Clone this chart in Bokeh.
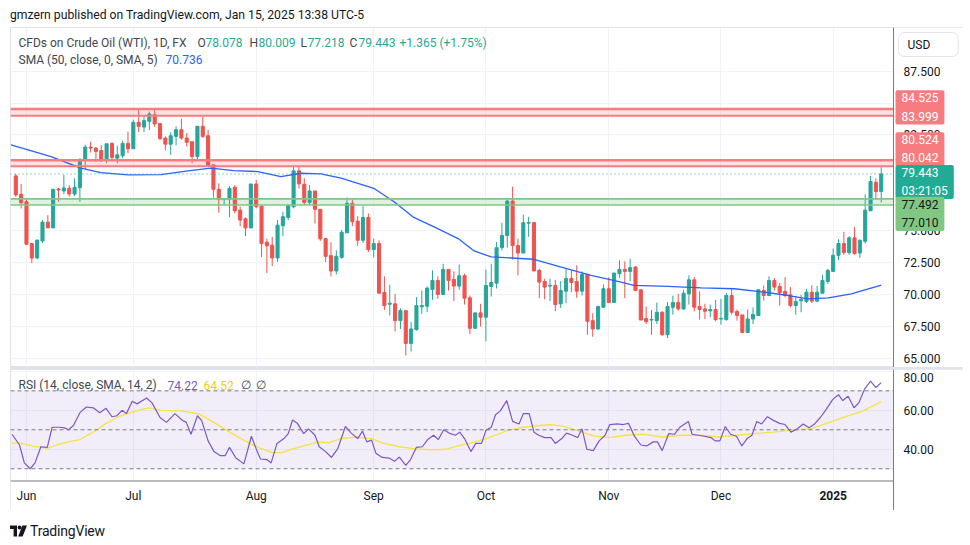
from bokeh.plotting import figure
from bokeh.models import (Range1d, FixedTicker, Span, BoxAnnotation, Label, Div,
                          ColumnDataSource)
from bokeh.layouts import column
from bokeh.embed import file_html
from bokeh.resources import INLINE

# ---------------- data ----------------
opens = [79.29, 77.85, 77.27, 73.99, 72.86, 74.20, 75.67, 75.22, 78.27, 78.11,
         78.32, 77.87, 78.37, 80.55, 81.55, 81.47, 81.29, 80.55, 81.84, 80.68,
         80.87, 81.84, 81.42, 83.49, 83.12, 83.57, 84.09, 83.39, 82.26, 81.78,
         82.39, 82.91, 82.26, 81.97, 80.81, 83.18, 82.44, 80.16, 78.24, 77.45,
         77.45, 78.40, 76.61, 75.93, 75.22, 78.66, 76.93, 74.09, 73.86, 72.86,
         75.38, 76.04, 76.88, 79.69, 78.64, 77.22, 78.11, 76.67, 74.38, 73.04,
         71.84, 72.91, 74.83, 77.14, 75.75, 74.25, 76.04, 73.52, 73.99, 70.16,
         69.24, 69.27, 67.95, 68.74, 66.17, 67.25, 69.03, 69.08, 70.39, 71.10,
         70.00, 71.97, 71.18, 70.66, 71.47, 69.74, 67.35, 68.56, 68.22, 70.63,
         70.89, 73.67, 74.62, 77.32, 73.83, 73.25, 75.59, 75.64, 71.89, 71.02,
         70.66, 70.71, 69.27, 70.26, 71.26, 71.02, 70.26, 71.57, 67.95, 67.30,
         69.00, 70.45, 69.37, 71.63, 71.97, 71.81, 72.15, 70.37, 68.11, 68.00,
         67.95, 68.61, 66.85, 69.00, 69.37, 68.87, 70.05, 71.15, 69.06, 68.87,
         68.72, 68.82, 68.08, 68.03, 69.92, 68.66, 68.40, 67.03, 68.08, 68.35,
         70.31, 69.92, 71.10, 70.63, 70.24, 69.97, 69.13, 69.50, 69.45, 70.18,
         69.48, 70.10, 71.02, 71.81, 73.07, 73.99, 73.28, 74.44, 73.25, 74.17,
         76.56, 78.79, 78.078]
highs = [79.45, 78.66, 77.45, 74.04, 74.33, 75.83, 76.22, 78.24, 78.35, 79.37,
         78.58, 79.11, 80.68, 81.73, 81.97, 81.55, 81.71, 81.81, 81.92, 81.65,
         82.05, 82.76, 83.70, 84.44, 84.04, 84.33, 84.54, 83.39, 82.39, 82.70,
         83.18, 83.78, 82.65, 81.97, 83.18, 83.91, 82.91, 80.16, 78.71, 77.50,
         78.50, 78.58, 76.88, 76.04, 78.66, 78.98, 76.93, 74.38, 74.51, 75.83,
         76.48, 77.09, 80.10, 80.10, 79.11, 78.58, 78.11, 76.67, 74.38, 74.09,
         73.46, 75.04, 77.61, 77.45, 76.14, 76.93, 76.35, 74.38, 74.25, 71.42,
         70.76, 70.05, 68.92, 68.74, 67.85, 69.79, 70.31, 70.63, 71.89, 71.42,
         72.41, 71.97, 71.81, 72.34, 71.63, 69.92, 68.56, 69.27, 71.94, 72.41,
         74.12, 75.62, 77.40, 78.45, 74.38, 76.27, 76.09, 75.64, 72.02, 71.23,
         71.23, 71.15, 71.05, 71.99, 71.89, 72.28, 71.81, 71.63, 68.53, 69.13,
         70.79, 71.36, 71.68, 72.68, 72.60, 72.81, 72.23, 70.37, 69.06, 68.79,
         69.37, 68.69, 69.40, 69.90, 70.05, 70.37, 71.50, 71.36, 70.24, 69.27,
         69.21, 69.58, 69.66, 70.13, 70.52, 68.82, 68.40, 68.82, 68.98, 70.37,
         70.71, 71.42, 71.29, 70.92, 71.36, 70.58, 69.87, 69.97, 70.45, 70.71,
         70.66, 71.55, 72.02, 73.60, 74.33, 74.91, 74.57, 75.30, 74.30, 77.85,
         79.29, 79.11, 80.009]
lows = [77.66, 76.75, 73.90, 72.47, 72.76, 74.04, 75.22, 75.22, 77.27, 77.85,
        77.66, 77.72, 77.27, 79.82, 81.13, 80.39, 80.37, 80.29, 80.55, 80.29,
        80.68, 81.08, 81.42, 82.73, 82.73, 82.88, 83.12, 82.13, 81.29, 80.94,
        81.68, 82.13, 81.60, 80.29, 80.55, 82.26, 80.13, 77.59, 76.40, 76.98,
        76.06, 76.35, 75.35, 74.57, 75.22, 76.75, 72.94, 71.68, 72.23, 72.55,
        74.57, 75.83, 76.75, 78.30, 77.01, 77.01, 75.56, 74.20, 72.55, 71.42,
        71.57, 72.81, 74.83, 75.35, 73.81, 74.04, 73.33, 72.89, 70.10, 68.79,
        68.35, 67.11, 67.30, 65.22, 65.54, 67.17, 68.48, 68.61, 69.58, 69.66,
        70.00, 70.31, 69.48, 70.37, 69.21, 66.90, 67.35, 67.48, 66.33, 69.84,
        70.47, 73.46, 73.67, 72.73, 71.50, 73.25, 74.51, 71.84, 69.71, 69.61,
        69.48, 68.69, 68.95, 69.32, 70.18, 69.74, 69.92, 66.85, 66.69, 67.22,
        69.00, 69.37, 69.37, 71.31, 69.71, 71.05, 70.26, 68.00, 67.69, 66.85,
        67.69, 66.77, 66.59, 68.43, 68.74, 68.79, 69.21, 68.66, 68.03, 68.08,
        68.22, 67.90, 67.64, 67.95, 68.43, 67.95, 66.96, 66.96, 67.69, 68.35,
        69.53, 69.87, 70.31, 69.13, 69.79, 69.00, 68.43, 68.61, 69.34, 69.34,
        69.40, 70.10, 70.84, 71.76, 72.68, 73.12, 73.12, 73.12, 72.86, 73.99,
        76.56, 77.45, 77.218]
closes = [77.80, 77.19, 73.94, 72.86, 74.25, 75.67, 75.22, 78.24, 78.19, 78.35,
          77.87, 78.40, 80.55, 81.55, 81.47, 81.21, 80.55, 81.81, 80.73, 80.94,
          81.84, 81.42, 83.49, 83.18, 83.62, 84.15, 83.36, 82.20, 81.78, 82.44,
          82.91, 82.26, 81.92, 80.81, 83.18, 82.39, 80.13, 78.24, 77.45, 77.50,
          78.32, 76.56, 75.83, 75.22, 78.66, 76.88, 73.99, 73.81, 72.86, 75.43,
          76.09, 76.98, 79.69, 78.67, 77.22, 78.11, 76.67, 74.36, 72.99, 71.84,
          72.99, 74.88, 77.14, 75.70, 74.25, 76.04, 73.52, 73.99, 70.10, 69.13,
          69.32, 67.95, 68.74, 66.17, 67.30, 69.13, 69.13, 70.50, 71.10, 70.00,
          71.97, 71.10, 70.66, 71.47, 69.71, 67.35, 68.56, 68.22, 70.71, 70.94,
          73.67, 74.62, 77.32, 73.83, 73.25, 75.62, 75.64, 71.84, 70.97, 70.58,
          70.71, 69.21, 70.31, 71.26, 70.94, 70.26, 71.57, 67.90, 67.30, 69.06,
          70.45, 69.37, 71.68, 71.97, 71.81, 72.10, 70.31, 68.00, 67.87, 68.05,
          68.61, 66.85, 69.06, 69.37, 68.87, 70.10, 71.15, 69.00, 68.82, 68.69,
          68.82, 68.03, 68.13, 69.92, 68.61, 68.35, 67.03, 68.08, 68.43, 70.37,
          69.92, 71.10, 70.58, 70.13, 69.92, 69.13, 69.45, 69.61, 70.18, 69.48,
          70.18, 71.10, 71.89, 73.07, 73.99, 73.28, 74.44, 73.20, 74.25, 76.61,
          78.85, 78.06, 79.443]

sma_bar = [-0.9, 6.6, 12.2, 15.9, 21.0, 27.2, 32.2, 36.5, 40.8, 45.3, 49.6, 53.4,
           57.1, 60.9, 67.0, 70.8, 74.5, 78.3, 82.8, 85.8, 89.0, 92.7, 97.0, 102.1,
           107.7, 113.3, 115.7, 122.1, 128.3, 134.5, 140.1, 144.6, 148.3, 152.1,
           156.4, 159.6, 162.0]
sma_val = [81.73, 80.81, 79.90, 79.55, 79.37, 79.39, 79.69, 79.90, 79.71, 79.63,
           79.24, 79.50, 79.45, 79.11, 78.32, 77.27, 76.04, 75.30, 74.38, 73.41,
           72.94, 72.86, 72.76, 72.15, 71.50, 70.97, 70.71, 70.63, 70.52, 70.45,
           70.18, 69.92, 69.66, 69.74, 70.05, 70.45, 70.736]

rsi_bar = [-0.7, 0.7, 1.6, 2.7, 3.6, 4.7, 5.9, 6.8, 8.2, 9.1,
           9.9, 10.8, 12.0, 13.2, 14.5, 15.7, 16.9, 18.0, 18.9, 19.9,
           20.7, 21.8, 22.7, 24.5, 25.5, 27.0, 28.2, 29.8, 31.1, 31.9,
           32.8, 34.0, 34.8, 36.0, 37.1, 38.3, 39.2, 40.0, 41.2, 42.7,
           44.1, 45.2, 45.8, 47.0, 47.8, 48.9, 50.2, 51.0, 51.8, 52.7,
           53.9, 54.8, 56.0, 56.8, 58.0, 59.1, 60.3, 61.7, 62.8, 64.0,
           64.9, 65.7, 66.6, 67.4, 68.6, 69.9, 70.9, 71.8, 73.0, 73.9,
           75.0, 76.1, 77.1, 78.2, 79.1, 80.1, 81.1, 82.3, 83.1, 84.0,
           85.2, 86.1, 87.2, 88.0, 89.0, 89.8, 90.7, 91.9, 93.0, 94.2,
           95.0, 96.1, 97.0, 97.9, 99.0, 100.2, 101.0, 102.2, 103.1, 104.2,
           105.2, 106.0, 106.9, 108.1, 109.2, 110.3, 111.2, 112.6, 113.7, 114.7,
           115.8, 117.0, 118.1, 119.3, 120.1, 121.0, 122.2, 123.3, 124.3, 125.9,
           126.6, 127.8, 128.9, 130.1, 130.9, 131.8, 132.8, 133.8, 134.9, 135.9,
           136.9, 137.8, 138.7, 139.6, 140.7, 141.9, 143.0, 144.0, 145.1, 146.3,
           147.4, 148.5, 149.4, 150.6, 151.7, 152.9, 154.0, 154.8, 155.8, 156.9,
           157.8, 158.9, 160.0, 161.0, 162.0]
rsi_val = [47.7, 42.2, 33.0, 30.0, 33.0, 41.3, 41.0, 51.3, 51.3, 51.0,
           50.0, 52.2, 58.8, 61.7, 61.3, 58.8, 61.0, 56.7, 57.2, 60.0,
           58.3, 64.7, 63.3, 66.3, 63.8, 56.3, 53.8, 58.3, 55.0, 53.8,
           47.7, 57.2, 54.7, 44.3, 38.8, 36.7, 36.7, 41.0, 35.5, 32.5,
           46.7, 38.8, 35.0, 34.7, 33.0, 43.0, 45.5, 48.0, 55.0, 53.3,
           48.0, 50.5, 47.2, 41.3, 38.8, 35.8, 40.5, 51.7, 48.3, 45.5,
           49.3, 43.8, 44.7, 38.0, 35.8, 35.5, 33.8, 36.0, 31.7, 34.7,
           41.0, 41.3, 45.0, 47.2, 45.0, 50.0, 48.3, 47.2, 48.8, 45.5,
           38.8, 43.0, 43.0, 49.7, 51.3, 57.7, 59.7, 65.0, 54.3, 53.0,
           58.3, 58.3, 48.8, 47.2, 46.0, 46.0, 43.0, 45.5, 48.3, 47.2,
           46.0, 50.5, 40.0, 39.3, 44.3, 47.2, 52.7, 53.0, 52.7, 53.3,
           46.7, 42.2, 41.7, 43.8, 43.8, 39.3, 48.0, 47.7, 51.3, 54.3,
           47.7, 47.2, 46.7, 46.0, 44.3, 44.3, 51.7, 47.7, 46.7, 41.7,
           45.5, 47.2, 54.3, 53.0, 56.7, 54.7, 53.3, 52.7, 48.8, 50.5,
           53.0, 51.0, 52.7, 56.3, 60.5, 65.5, 68.0, 65.0, 67.2, 61.3,
           63.8, 71.0, 75.0, 71.7, 74.22]

rsima_bar = [-0.7, 0.7, 3.0, 5.9, 7.6, 9.9, 12.0, 14.5, 16.9, 19.2,
             21.5, 23.6, 25.0, 27.3, 30.8, 34.2, 37.1, 40.0, 42.9, 45.8,
             48.1, 49.8, 52.2, 55.1, 56.8, 58.5, 60.8, 63.7, 66.6, 68.9,
             71.8, 74.7, 78.2, 80.5, 82.8, 85.2, 88.0, 89.8, 92.1, 95.0,
             97.9, 100.2, 102.5, 105.4, 108.3, 111.2, 114.1, 117.6, 121.0, 124.5,
             128.0, 131.4, 134.9, 138.4, 141.9, 145.3, 148.8, 152.3, 155.8, 158.6,
             162.0]
rsima_val = [43.0, 43.3, 41.7, 40.5, 42.2, 43.8, 45.0, 48.8, 53.3, 56.7,
             58.8, 60.5, 61.3, 60.0, 59.7, 58.3, 53.8, 48.8, 44.3, 40.5,
             38.3, 38.3, 40.5, 42.7, 43.8, 43.3, 45.5, 46.3, 45.5, 43.0,
             41.3, 40.2, 39.7, 40.0, 41.7, 43.3, 45.5, 47.2, 49.7, 51.3,
             52.2, 52.7, 51.7, 49.3, 46.7, 46.0, 47.2, 47.7, 46.3, 47.2,
             47.2, 46.3, 47.2, 48.0, 48.8, 50.0, 50.5, 53.8, 57.2, 59.7,
             64.52]

month_bar = [2, 22, 45, 67, 88, 111, 132, 153]
month_lbl = ["Jun", "Jul", "Aug", "Sep", "Oct", "Nov", "Dec", "2025"]
price_ticks = [65.0, 67.5, 70.0, 72.5, 75.0, 77.5, 80.0, 82.5, 85.0, 87.5]
rsi_ticks = [40, 60, 80]
rsi_levels = [70, 50, 30]
red_zones = [(83.999, 84.525), (80.042, 80.524)]
green_zone = (77.010, 77.492)
last_price = 79.443
countdown = "03:21:05"
sma_last = 70.736
rsi_last = 74.22
rsima_last = 64.52

# ---------------- style ----------------
FONT = "Roboto"
UP, DN = "#26a69a", "#ef5350"
GRID = "#f0f3fa"
AXIS = "#787b86"
TXT = "#131722"
LEG = "#434651"
W = 963
X_LO, X_AX, X_HI = -0.99, 164.3, 177.4     # frame left, price-scale edge, frame right
P_LO, P_HI = 64.28, 90.92
R_BOT, R_LO, R_HI = 8.57, 23.97, 80.95     # RSI frame also holds the time scale below R_LO

bars = list(range(len(opens)))
src = ColumnDataSource(dict(
    x=bars, h=highs, l=lows,
    top=[max(o, c) for o, c in zip(opens, closes)],
    bot=[min(o, c) for o, c in zip(opens, closes)],
    col=[UP if c >= o else DN for o, c in zip(opens, closes)],
))

def style_fig(f):
    f.background_fill_color = "white"
    f.border_fill_color = "white"
    f.outline_line_color = "#e0e3eb"
    f.xgrid.ticker = FixedTicker(ticks=month_bar)
    f.xgrid.grid_line_color = GRID
    f.ygrid.grid_line_color = GRID

def txt(f, text, x, y, xo, yo, color, size="12px", level="annotation", align="left",
        **kw):
    f.add_layout(Label(x=x, y=y, x_offset=xo, y_offset=yo, text=text,
                       text_color=color, text_font=FONT, text_font_size=size,
                       text_align=align, text_baseline="middle", level=level, **kw))

def price_scale(f, ticks, fmt, shift=None):
    # white panel of the price scale, its labels and its border line
    shift = shift or {}
    f.add_layout(BoxAnnotation(left=X_AX, fill_color="white", fill_alpha=1,
                               line_alpha=0, level="annotation"))
    for t in ticks:
        txt(f, fmt % t, X_AX, t, 10, shift.get(t, 0), TXT, size="12px", level="overlay")
    f.add_layout(Span(location=X_AX, dimension="height", line_color=AXIS,
                      line_width=1, level="overlay"))

# ---------------- main pane ----------------
p = figure(width=W, height=340, x_range=Range1d(X_LO, X_HI), y_range=Range1d(P_LO, P_HI),
           output_backend="svg", toolbar_location=None, x_axis_location=None,
           y_axis_location=None, min_border_left=10, min_border_right=0,
           min_border_top=0, min_border_bottom=0)
style_fig(p)
p.ygrid.ticker = FixedTicker(ticks=price_ticks)

for lo, hi in red_zones:
    p.add_layout(BoxAnnotation(bottom=lo, top=hi, fill_color="#f77c80", fill_alpha=0.22,
                               line_alpha=0, level="underlay"))
    p.add_layout(Span(location=hi, dimension="width", line_color="#f77c80", line_width=2.5))
    p.add_layout(Span(location=lo, dimension="width", line_color="#f77c80", line_width=2))
p.add_layout(BoxAnnotation(bottom=green_zone[0], top=green_zone[1], fill_color="#81c784",
                           fill_alpha=0.25, line_alpha=0, level="underlay"))
for v in green_zone:
    p.add_layout(Span(location=v, dimension="width", line_color="#81c784", line_width=1.6))

p.segment(x0="x", y0="h", x1="x", y1="l", line_color="col", line_width=1, source=src)
p.vbar(x="x", width=0.58, top="top", bottom="bot", fill_color="col", line_color="col",
       line_width=1, source=src)
p.line(sma_bar, sma_val, line_color="#2962ff", line_width=1.3)
p.add_layout(Span(location=last_price, dimension="width", line_color="#22ab94",
                  line_width=1, line_dash="1 3"))

price_scale(p, price_ticks, "%.3f")

# legend of the main pane
txt(p, "CFDs on Crude Oil (WTI), 1D, FX", X_LO, P_HI, 8, -15, LEG)
ohlc = [("O", opens[-1], 187, 195), ("H", highs[-1], 239, 248),
        ("L", lows[-1], 290, 297), ("C", closes[-1], 339, 348)]
for letter, v, xl, xv in ohlc:
    txt(p, letter, X_LO, P_HI, xl, -15, LEG)
    txt(p, "%.3f" % v, X_LO, P_HI, xv, -15, "#22ab94")
txt(p, "+1.365 (+1.75%)", X_LO, P_HI, 389, -15, "#22ab94")
txt(p, "SMA (50, close, 0, SMA, 5)", X_LO, P_HI, 8, -32, LEG)
txt(p, "%.3f" % sma_last, X_LO, P_HI, 155, -32, "#2962ff")

# price scale tags
pad = dict(left=6, right=6, top=1, bottom=1)
def tag(text, y, yo, bg, fg):
    p.add_layout(Label(x=X_AX, y=y, x_offset=2, y_offset=yo, text=text, text_color=fg,
                       text_font=FONT, text_font_size="12px", text_align="left",
                       text_baseline="middle", text_line_height=1.3,
                       background_fill_color=bg, padding=pad, border_radius=2,
                       level="overlay"))
tag("%.3f\n%.3f" % (red_zones[0][1], red_zones[0][0]), sum(red_zones[0]) / 2, 5, "#f77c80", "white")
tag("%.3f\n%.3f" % (red_zones[1][1], red_zones[1][0]), sum(red_zones[1]) / 2, 14, "#f77c80", "white")
tag("%.3f\n%s" % (last_price, countdown), last_price, -8, "#22ab94", "white")
tag("%.3f\n%.3f" % (green_zone[1], green_zone[0]), sum(green_zone) / 2, -12, "#81c784", TXT)
p.add_layout(Label(x=X_AX, y=P_HI, x_offset=5, y_offset=-17, text="USD", text_color=TXT,
                   text_font=FONT, text_font_size="12px", text_align="left",
                   text_baseline="middle", background_fill_color="white",
                   border_line_color="#e0e3eb", border_line_width=1, border_radius=6,
                   padding=dict(left=9, right=28, top=5, bottom=5), level="overlay"))

# ---------------- RSI pane (with the time scale in its lower strip) ----------------
r = figure(width=W, height=141, x_range=p.x_range, y_range=Range1d(R_BOT, R_HI),
           output_backend="svg", toolbar_location=None, y_axis_location=None,
           x_axis_location=None, min_border_left=10, min_border_right=0,
           min_border_top=0, min_border_bottom=0)
style_fig(r)
r.ygrid.ticker = FixedTicker(ticks=rsi_ticks)

r.add_layout(BoxAnnotation(bottom=min(rsi_levels), top=max(rsi_levels), fill_color="#7e57c2",
                           fill_alpha=0.1, line_alpha=0, level="underlay"))
for lv in rsi_levels:
    r.add_layout(Span(location=lv, dimension="width", line_color=AXIS, line_width=1,
                      line_dash="4 3"))
r.line(rsima_bar, rsima_val, line_color="#f5e342", line_width=1.3)
r.line(rsi_bar, rsi_val, line_color="#7e57c2", line_width=1.2)

# time scale strip: white panel, dark top line, month labels
r.add_layout(BoxAnnotation(top=R_LO, fill_color="white", fill_alpha=1, line_alpha=0,
                           level="annotation"))
r.add_layout(BoxAnnotation(top=R_LO, bottom=R_LO - 0.5, right=X_AX, fill_color=AXIS,
                           fill_alpha=1, line_alpha=0, level="annotation"))
for b, lbl in zip(month_bar, month_lbl):
    txt(r, lbl, b, R_LO, 0, -15, TXT, align="center", level="overlay",
        text_font_style="bold" if lbl.isdigit() else "normal")

# the top label sits right under the pane border; nudge it down so it stays whole
price_scale(r, rsi_ticks, "%.2f", shift={80: -6})

txt(r, "RSI (14, close, SMA, 14, 2)", X_LO, R_HI, 8, -15.5, LEG)
txt(r, "%.2f" % rsi_last, X_LO, R_HI, 157, -15.5, "#7e57c2")
txt(r, "%.2f" % rsima_last, X_LO, R_HI, 193, -15.5, "#e6cf1e")
txt(r, "\u2205", X_LO, R_HI, 230, -15.5, LEG)
txt(r, "\u2205", X_LO, R_HI, 245, -15.5, LEG)

# ---------------- header / footer ----------------
header = Div(text='<div style="font-family:Roboto;font-size:12.2px;color:#131722;'
                  'line-height:15px;padding-left:10px;padding-top:8px;white-space:nowrap">'
                  'gmzern published on TradingView.com, Jan 15, 2025 13:38 UTC-5</div>',
             width=W, height=27, margin=(0, 0, 0, 0))
sep = Div(text="", width=W - 10, height=2, margin=(0, 0, 0, 10),
          styles={"background-color": "#e0e3eb"})
logo = ('<svg width="17" height="12" viewBox="0 0 17 12" style="margin-right:3px">'
        '<path d="M0 0.5 H7 V11.5 H3.6 V4 H0 Z" fill="#131722"/>'
        '<circle cx="9.6" cy="2.4" r="2" fill="#131722"/>'
        '<path d="M12.4 0.5 H17 L12.6 11.5 H8.2 Z" fill="#131722"/></svg>')
footer = Div(text='<div style="display:flex;align-items:center;padding-top:11px;'
                  'padding-left:10px;font-family:Roboto;font-size:14px;color:#131722;'
                  'letter-spacing:-0.2px">' + logo + '<span>TradingView</span></div>',
             width=W, height=35, margin=(0, 0, 0, 0))

layout = column(header, p, sep, r, footer, spacing=0)
open("out.html", "w").write(file_html(layout, INLINE))
